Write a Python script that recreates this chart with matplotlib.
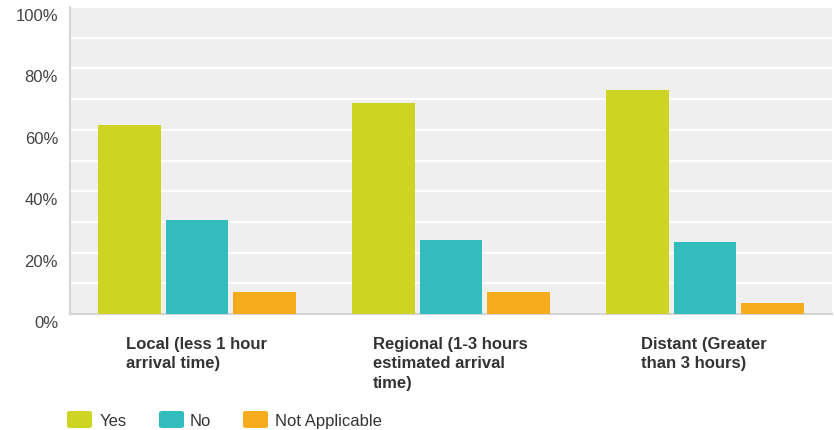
import matplotlib
matplotlib.use("Agg")
import matplotlib.pyplot as plt
import matplotlib.transforms as mtrans
from matplotlib.patches import FancyBboxPatch
import numpy as np

categories = ["Local (less 1 hour\narrival time)",
              "Regional (1-3 hours\nestimated arrival\ntime)",
              "Distant (Greater\nthan 3 hours)"]
series_names = ["Yes", "No", "Not Applicable"]
yes_vals = [61.6, 68.7, 73.0]
no_vals = [30.6, 24.1, 23.5]
na_vals = [7.2, 7.2, 3.6]
ytick_vals = [0, 20, 40, 60, 80, 100]
ytick_labels = ["0%", "20%", "40%", "60%", "80%", "100%"]

colors = ["#CDD423", "#32BCBE", "#F7AC1E"]
plt.rcParams['font.family'] = ['Liberation Sans', 'DejaVu Sans']

W, H = 834, 431
fig = plt.figure(figsize=(W / 100, H / 100), dpi=100)
ax = fig.add_axes([70 / W, (H - 315) / H, 762 / W, 307 / H])
ax.set_facecolor("#EFEFEF")

x = np.arange(len(categories))
width = 0.245
offs = 0.266
for vals, off, c in zip([yes_vals, no_vals, na_vals], [-offs, 0, offs], colors):
    ax.bar(x + off, vals, width, color=c, zorder=3)

ax.set_xlim(-0.5, 2.5)
ax.set_ylim(0, 100)
ax.set_yticks(ytick_vals)
ax.set_yticklabels(ytick_labels, fontsize=12, color="#444444")
ax.set_yticks(np.arange(10, 100, 10), minor=True)
ax.grid(axis="y", which="both", color="white", linewidth=1.6, zorder=1)
ax.tick_params(axis="y", which="both", length=0, pad=8.6)
shift = mtrans.ScaledTranslation(0, -7 / 100, fig.dpi_scale_trans)
for lbl in ax.get_yticklabels():
    lbl.set_transform(lbl.get_transform() + shift)
ax.set_xticks([])
for s in ["top", "right"]:
    ax.spines[s].set_visible(False)
for s in ["left", "bottom"]:
    ax.spines[s].set_color("#D5D5D5")
    ax.spines[s].set_linewidth(1.5)

# category labels (left-aligned blocks)
label_x = [126, 373, 641]
for lx, lab in zip(label_x, categories):
    fig.text(lx / W, (H - 337) / H, lab, ha="left", va="top", fontsize=12,
             fontweight="bold", color="#333333", linespacing=1.37)

# legend
leg_sq = [67, 159, 243]
leg_tx = [100, 190, 275]
ly = 421
for sx, tx, c, name in zip(leg_sq, leg_tx, colors, series_names):
    p = FancyBboxPatch(((sx) / W, (H - ly - 8) / H), 25 / W, 17 / H,
                       boxstyle="round,pad=0,rounding_size=0.004",
                       transform=fig.transFigure, facecolor=c, edgecolor="none")
    fig.patches.append(p)
    fig.text(tx / W, (H - ly - 1) / H, name, ha="left", va="center", fontsize=12,
             color="#333333")

fig.savefig("out.png", dpi=100)
